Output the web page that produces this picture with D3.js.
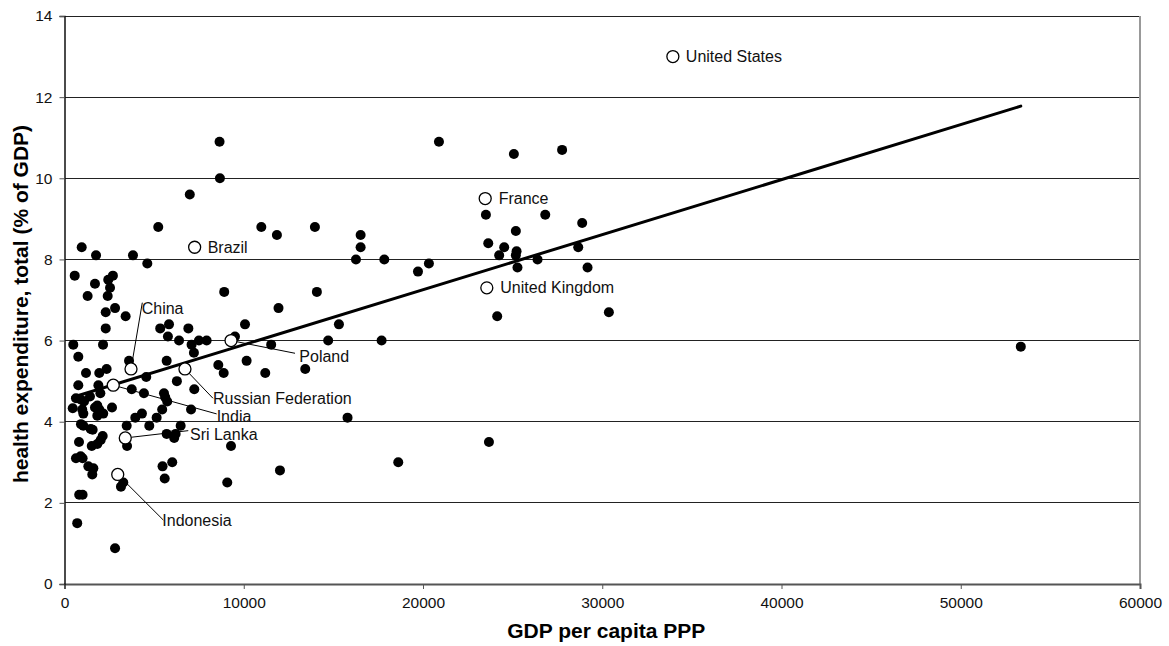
<!DOCTYPE html>
<html>
<head>
<meta charset="utf-8">
<script src="https://cdn.jsdelivr.net/npm/d3@7"></script>
<style>
  html, body { margin: 0; padding: 0; background: #fff; }
  svg { display: block; font-family: "Liberation Sans", Arial, sans-serif; }
</style>
</head>
<body>
<svg id="chart" width="1169" height="646"></svg>
<script>
// GDP per capita (PPP, US$) and total health expenditure (% of GDP), one entry per country
const gdp = [
  8650, 8670, 6990, 20890, 25070, 27760, 23510, 26820, 28880, 25180,
  23640, 24530, 25220, 25180, 24250, 28660, 26390, 25270, 29180, 20330,
  19720, 24140, 30370, 23680, 53350, 5230, 10980, 11850, 13970, 16520,
  16520, 16260, 17840, 8910, 14080, 11940, 15310, 10070, 5340, 5830,
  6910, 5770, 6390, 7090, 7500, 7930, 9510, 11530, 14710, 17690,
  7220, 5700, 10160, 11200, 13430, 15790, 12020, 18620, 960, 1760,
  3820, 4620, 570, 1700, 2440, 2700, 2540, 1290, 2410, 2300,
  2820, 3410, 2300, 490, 2150, 770, 3600, 8580, 8880, 1200,
  1940, 2350, 4560, 6270, 770, 1890, 2000, 3750, 4430, 7240,
  5550, 5620, 5730, 5450, 5140, 4320, 3950, 4730, 7060, 3470,
  3490, 6480, 5700, 6200, 6120, 9290, 5470, 6010, 5590, 9080,
  3280, 3150, 820, 1010, 710, 2820, 640, 900, 1090, 1420,
  460, 990, 1050, 1700, 1830, 1940, 2160, 1830, 2650, 920,
  1050, 1460, 1570, 810, 1520, 1830, 2020, 2130, 640, 900,
  1010, 1330, 1610, 1550
];
const health = [
  10.9, 10.0, 9.6, 10.9, 10.6, 10.7, 9.1, 9.1, 8.9, 8.7,
  8.4, 8.3, 8.2, 8.1, 8.1, 8.3, 8.0, 7.8, 7.8, 7.9,
  7.7, 6.6, 6.7, 3.5, 5.85, 8.8, 8.8, 8.6, 8.8, 8.6,
  8.3, 8.0, 8.0, 7.2, 7.2, 6.8, 6.4, 6.4, 6.3, 6.4,
  6.3, 6.1, 6.0, 5.9, 6.0, 6.0, 6.1, 5.9, 6.0, 6.0,
  5.7, 5.5, 5.5, 5.2, 5.3, 4.1, 2.8, 3.0, 8.3, 8.1,
  8.1, 7.9, 7.6, 7.4, 7.5, 7.6, 7.3, 7.1, 7.1, 6.7,
  6.8, 6.6, 6.3, 5.9, 5.9, 5.6, 5.5, 5.4, 5.2, 5.2,
  5.2, 5.3, 5.1, 5.0, 4.9, 4.9, 4.7, 4.8, 4.7, 4.8,
  4.7, 4.6, 4.5, 4.3, 4.1, 4.2, 4.1, 3.9, 4.3, 3.9,
  3.4, 3.9, 3.7, 3.7, 3.6, 3.4, 2.9, 3.0, 2.6, 2.5,
  2.5, 2.4, 2.2, 2.2, 1.5, 0.88, 4.58, 4.55, 4.5, 4.62,
  4.33, 4.3, 4.2, 4.35, 4.4, 4.3, 4.2, 4.15, 4.35, 3.94,
  3.9, 3.82, 3.8, 3.5, 3.4, 3.45, 3.55, 3.65, 3.1, 3.15,
  3.1, 2.9, 2.85, 2.7
];

// Named countries, drawn as open circles
const namedCountries = ["United States", "France", "United Kingdom", "Brazil", "China",
  "Poland", "Russian Federation", "India", "Sri Lanka", "Indonesia"];
const namedGdp    = [33940, 23470, 23560, 7260, 3710, 9290, 6720, 2720, 3390, 2970];
const namedHealth = [13.0, 9.5, 7.3, 8.3, 5.3, 6.0, 5.3, 4.9, 3.6, 2.7];

// Linear trend: health = intercept + slope * (GDP / 1000)
const trendIntercept = 4.54;
const trendSlope = 0.1357;

// Axis ticks
const xTicks = [0, 10000, 20000, 30000, 40000, 50000, 60000];
const yTicks = [0, 2, 4, 6, 8, 10, 12, 14];

const xTitle = "GDP per capita PPP";
const yTitle = "health expenditure, total (% of GDP)";

// Label placement for the named countries (pixel offsets from the marker):
// text start [tx, ty] and optional leader-line end [lx, ly]
const labelPlacement = {
  "United States":      { tx: 13,   ty: 5.5 },
  "France":             { tx: 13.5, ty: 5.5 },
  "United Kingdom":     { tx: 13.5, ty: 5.5 },
  "Brazil":             { tx: 13,   ty: 5.5 },
  "China":              { tx: 10.7, ty: -55.3, lx: 11.3, ly: -66.3 },
  "Poland":             { tx: 68.3, ty: 21,    lx: 64,   ly: 12.7 },
  "Russian Federation": { tx: 28,   ty: 35,    lx: 28,   ly: 29.3 },
  "India":              { tx: 103.4, ty: 37,   lx: 103.4, ly: 28.7 },
  "Sri Lanka":          { tx: 64.7, ty: 1.7,   lx: 63,   ly: -7.3 },
  "Indonesia":          { tx: 44.6, ty: 51.3,  lx: 45.6, ly: 45.6 }
};

const svg = d3.select("#chart");
const plot = { left: 64.5, right: 1140, top: 16, bottom: 584 };

const x = d3.scaleLinear().domain([0, 60000]).range([plot.left, plot.right]);
const y = d3.scaleLinear().domain([0, 14]).range([plot.bottom, plot.top]);

// Horizontal gridlines
svg.append("g")
  .selectAll("line")
  .data(yTicks.filter(v => v > 0))
  .join("line")
  .attr("x1", plot.left).attr("x2", plot.right)
  .attr("y1", d => y(d)).attr("y2", d => y(d))
  .attr("stroke", "#222").attr("stroke-width", 1)
  .attr("shape-rendering", "crispEdges");

// Right border of the plot area
svg.append("line")
  .attr("x1", plot.right).attr("x2", plot.right)
  .attr("y1", plot.top).attr("y2", plot.bottom)
  .attr("stroke", "#999").attr("stroke-width", 2);

// X axis
const xAxis = svg.append("g")
  .attr("transform", `translate(0,${plot.bottom})`)
  .call(d3.axisBottom(x).tickValues(xTicks).tickFormat(d3.format("d")).tickSize(5).tickPadding(8));
xAxis.select(".domain").attr("stroke", "#555").attr("stroke-width", 2);
xAxis.selectAll(".tick line").attr("stroke", "#555");
xAxis.selectAll(".tick text")
  .attr("font-family", "Liberation Sans, Arial, sans-serif")
  .attr("font-size", 15.5).attr("fill", "#111");

// Y axis
const yAxis = svg.append("g")
  .attr("transform", `translate(${plot.left},0)`)
  .call(d3.axisLeft(y).tickValues(yTicks).tickFormat(d3.format("d")).tickSize(5).tickPadding(7));
yAxis.select(".domain").attr("stroke", "#111").attr("stroke-width", 1.5);
yAxis.selectAll(".tick line").attr("stroke", "#555");
yAxis.selectAll(".tick text")
  .attr("font-family", "Liberation Sans, Arial, sans-serif")
  .attr("font-size", 15.5).attr("fill", "#111");

// Country points
const points = gdp.map((g, i) => ({ g, h: health[i] }));
svg.append("g")
  .selectAll("circle")
  .data(points)
  .join("circle")
  .attr("cx", d => x(d.g))
  .attr("cy", d => y(d.h))
  .attr("r", 5)
  .attr("fill", "#000");

// Trend line across the GDP range of the data
const gMin = d3.min(gdp.concat(namedGdp));
const gMax = d3.max(gdp.concat(namedGdp));
const trendPts = [gMin, gMax].map(g => [g, trendIntercept + trendSlope * g / 1000]);
svg.append("path")
  .attr("d", d3.line().x(d => x(d[0])).y(d => y(d[1]))(trendPts))
  .attr("stroke", "#000").attr("stroke-width", 3).attr("fill", "none")
  .attr("stroke-linecap", "round");

// Named countries
const named = namedCountries.map((n, i) => ({ name: n, g: namedGdp[i], h: namedHealth[i] }));
const r0 = 6;

// Leader lines
svg.append("g")
  .selectAll("line")
  .data(named.filter(d => labelPlacement[d.name].lx !== undefined))
  .join("line")
  .each(function(d) {
    const p = labelPlacement[d.name];
    const cx = x(d.g), cy = y(d.h);
    const len = Math.hypot(p.lx, p.ly);
    d3.select(this)
      .attr("x1", cx + p.lx / len * r0).attr("y1", cy + p.ly / len * r0)
      .attr("x2", cx + p.lx).attr("y2", cy + p.ly);
  })
  .attr("stroke", "#000").attr("stroke-width", 1);

svg.append("g")
  .selectAll("circle")
  .data(named)
  .join("circle")
  .attr("cx", d => x(d.g))
  .attr("cy", d => y(d.h))
  .attr("r", r0)
  .attr("fill", "#fff")
  .attr("stroke", "#000")
  .attr("stroke-width", 1.3);

svg.append("g")
  .selectAll("text")
  .data(named)
  .join("text")
  .attr("x", d => x(d.g) + labelPlacement[d.name].tx)
  .attr("y", d => y(d.h) + labelPlacement[d.name].ty)
  .attr("font-size", 16)
  .attr("fill", "#111")
  .text(d => d.name);

// Axis titles
svg.append("text")
  .attr("x", (plot.left + plot.right) / 2 + 4)
  .attr("y", 638)
  .attr("text-anchor", "middle")
  .attr("font-size", 21).attr("font-weight", "bold").attr("fill", "#000")
  .text(xTitle);

svg.append("text")
  .attr("transform", `translate(28,304) rotate(-90)`)
  .attr("text-anchor", "middle")
  .attr("font-size", 21).attr("font-weight", "bold").attr("fill", "#000")
  .text(yTitle);
</script>
</body>
</html>
